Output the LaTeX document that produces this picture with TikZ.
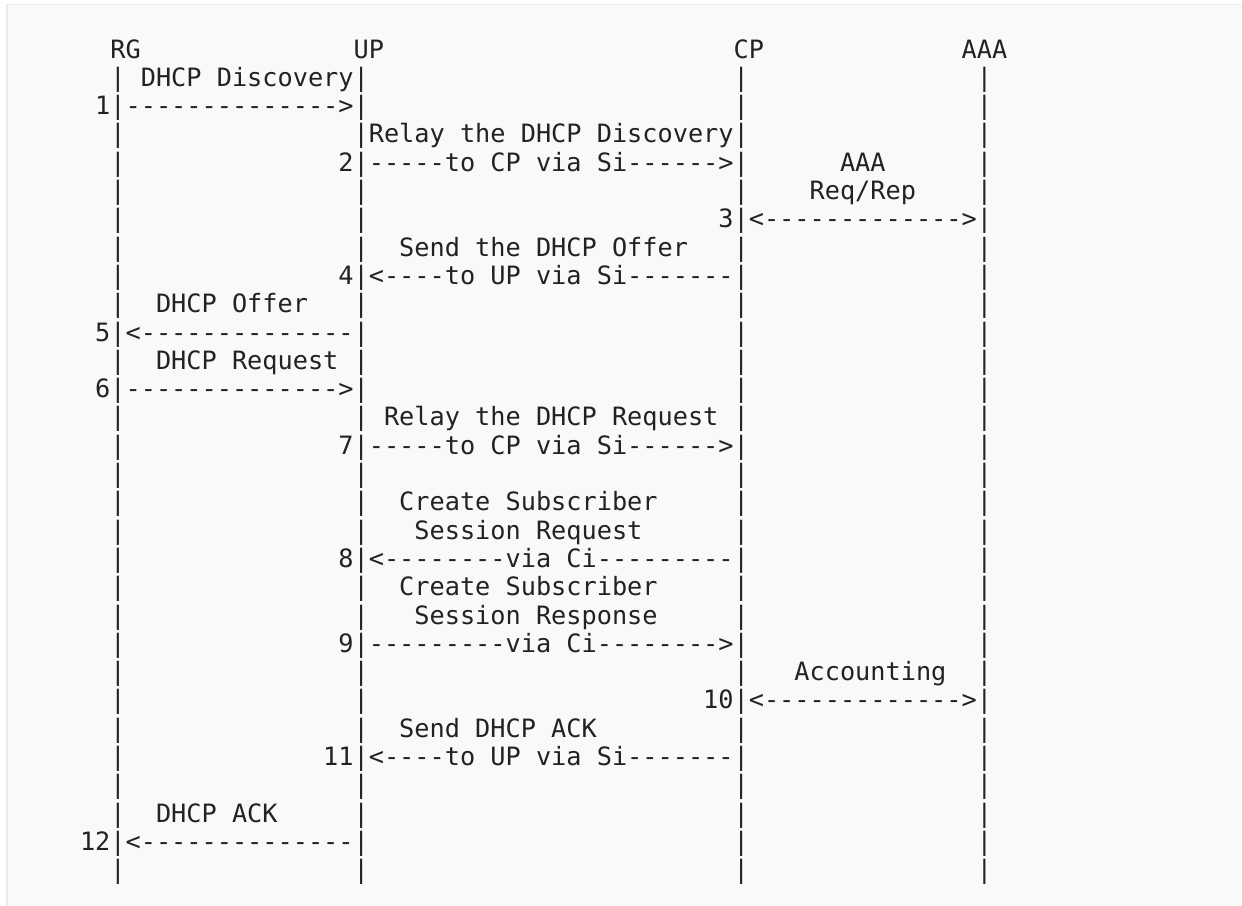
\documentclass[tikz,border=0pt]{standalone}
\usepackage{fontspec}
\setmonofont{DejaVu Sans Mono}
\definecolor{bgc}{HTML}{F9F9F9}
\definecolor{bdc}{HTML}{EAEAEA}
\definecolor{ink}{HTML}{222222}
\tikzset{txt/.style={anchor=base west, inner sep=0pt, outer sep=0pt, text=ink,
  font=\ttfamily\fontsize{25.25}{28}\selectfont}}
\newcommand\tx[3]{\node[txt] (t-#1-#2) at ({19.2+15.2*#2},{-58-28.3*#1}) {#3};}
\begin{document}
\begin{tikzpicture}[x=1pt,y=1pt]
\useasboundingbox (0,0) rectangle (1242,-905);
\fill[white] (0,0) rectangle (1242,-905);
\filldraw[fill=bgc,draw=bdc,line width=1.5pt] (7,-4.5) rectangle (1260,-920);
% lifelines
\foreach \r in {1,...,29}{\foreach \c in {6,22,47,63}{\tx{\r}{\c}{|}}}
% header
\tx{0}{6}{RG}
\tx{0}{22}{UP}
\tx{0}{47}{CP}
\tx{0}{62}{AAA}
% messages
\tx{1}{8}{DHCP Discovery}
\tx{2}{5}{1}\tx{2}{7}{-------------->}
\tx{3}{23}{Relay the DHCP Discovery}
\tx{4}{21}{2}\tx{4}{23}{-----to CP via Si------>}\tx{4}{54}{AAA}
\tx{5}{52}{Req/Rep}
\tx{6}{46}{3}\tx{6}{48}{<------------->}
\tx{7}{25}{Send the DHCP Offer}
\tx{8}{21}{4}\tx{8}{23}{<----to UP via Si-------}
\tx{9}{9}{DHCP Offer}
\tx{10}{5}{5}\tx{10}{7}{<--------------}
\tx{11}{9}{DHCP Request}
\tx{12}{5}{6}\tx{12}{7}{-------------->}
\tx{13}{24}{Relay the DHCP Request}
\tx{14}{21}{7}\tx{14}{23}{-----to CP via Si------>}
\tx{16}{25}{Create Subscriber}
\tx{17}{26}{Session Request}
\tx{18}{21}{8}\tx{18}{23}{<--------via Ci---------}
\tx{19}{25}{Create Subscriber}
\tx{20}{26}{Session Response}
\tx{21}{21}{9}\tx{21}{23}{---------via Ci-------->}
\tx{22}{51}{Accounting}
\tx{23}{45}{10}\tx{23}{48}{<------------->}
\tx{24}{25}{Send DHCP ACK}
\tx{25}{20}{11}\tx{25}{23}{<----to UP via Si-------}
\tx{27}{9}{DHCP ACK}
\tx{28}{4}{12}\tx{28}{7}{<--------------}
\end{tikzpicture}
\end{document}
